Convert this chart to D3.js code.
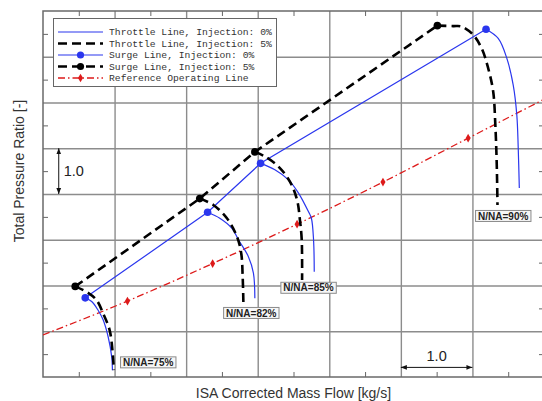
<!DOCTYPE html>
<html>
<head>
<meta charset="utf-8">
<script src="https://cdn.jsdelivr.net/npm/d3@7"></script>
<style>
  body { margin: 0; background: #fff; }
  svg { display: block; }
</style>
</head>
<body>
<script>
// speed lines N/NA
const speeds = ['75%', '82%', '85%', '90%'];

// surge points [mass flow, pressure ratio]
const surge0 = [[0.59, 1.73], [2.30, 3.60], [3.04, 4.67], [6.19, 7.60]];
const surge5 = [[0.45, 1.98], [2.19, 3.90], [2.96, 4.92], [5.51, 7.68]];

// throttle lines, injection 0% (start at the surge point)
const thr0_75 = [[0.68, 1.65], [0.77, 1.46], [0.84, 1.25], [0.91, 0.88], [0.96, 0.44], [0.97, 0.15]];
const thr0_82 = [[2.47, 3.47], [2.64, 3.25], [2.73, 3.00], [2.87, 2.63], [2.94, 2.27], [2.96, 1.72]];
const thr0_85 = [[3.24, 4.53], [3.43, 4.31], [3.57, 4.02], [3.71, 3.61], [3.75, 3.47], [3.78, 3.00], [3.79, 2.30]];
const thr0_90 = [[6.36, 7.40], [6.48, 6.97], [6.57, 6.38], [6.62, 5.73], [6.64, 5.00], [6.655, 4.13]];

// throttle lines, injection 5%
const thr5_75 = [[0.63, 1.84], [0.75, 1.68], [0.84, 1.39], [0.93, 1.03], [0.97, 0.59], [0.99, 0.15]];
const thr5_82 = [[2.38, 3.76], [2.57, 3.47], [2.71, 3.07], [2.77, 2.70], [2.79, 2.19], [2.80, 1.61]];
const thr5_85 = [[3.10, 4.82], [3.29, 4.60], [3.45, 4.27], [3.55, 3.87], [3.59, 3.43], [3.615, 3.00], [3.62, 2.12]];
const thr5_90 = [[5.73, 7.67], [5.85, 7.66], [6.01, 7.48], [6.13, 7.18], [6.22, 6.75], [6.29, 6.24], [6.32, 5.51], [6.34, 4.63], [6.35, 3.76]];

// reference operating line
const opLine = [[0, 0.92], [1.18, 1.66], [2.37, 2.48], [3.55, 3.34], [4.75, 4.26], [5.94, 5.22], [7.0, 6.07]];
const opMarkers = [[1.18, 1.66], [2.37, 2.48], [3.55, 3.34], [4.75, 4.26], [5.94, 5.22]];

// speed label positions (centre of box)
const labelPos = [[1.47, 0.32], [2.91, 1.40], [3.71, 1.95], [6.43, 3.52]];

const legendLabels = [
  'Throttle Line, Injection: 0%',
  'Throttle Line, Injection: 5%',
  'Surge Line, Injection: 0%',
  'Surge Line, Injection: 5%',
  'Reference Operating Line'
];

const config = {
  blue: '#2a36ee',
  black: '#000',
  red: '#dd1a1a',
  grid: '#8c8c8c',
  textColor: '#333',
  xTitle: 'ISA Corrected Mass Flow [kg/s]',
  yTitle: 'Total Pressure Ratio [-]'
};

const W = 542, H = 401;
const x = d3.scaleLinear().domain([0, 7]).range([43, 544]);
const y = d3.scaleLinear().domain([0, 8]).range([377, 11]);

const svg = d3.select('body').append('svg')
  .attr('width', W)
  .attr('height', H);

const defs = svg.append('defs');
defs.append('clipPath')
  .attr('id', 'clip')
  .append('rect')
  .attr('x', x(0))
  .attr('y', y(8))
  .attr('width', x(7) - x(0))
  .attr('height', y(0) - y(8));
defs.append('marker')
  .attr('id', 'arrow')
  .attr('viewBox', '0 0 10 10')
  .attr('refX', 10).attr('refY', 5)
  .attr('markerWidth', 6).attr('markerHeight', 6)
  .attr('markerUnits', 'userSpaceOnUse')
  .attr('orient', 'auto-start-reverse')
  .append('path')
  .attr('d', 'M0,1 L10,5 L0,9 Z')
  .attr('fill', '#111');

// grid
const pw = x(7) - x(0), ph = y(0) - y(8);
svg.append('g')
  .attr('class', 'grid')
  .attr('transform', `translate(0,${y(0)})`)
  .call(d3.axisBottom(x).tickValues(d3.range(1, 7)).tickSize(-ph).tickFormat(''));
svg.append('g')
  .attr('class', 'grid')
  .attr('transform', `translate(${x(0)},0)`)
  .call(d3.axisLeft(y).tickValues(d3.range(1, 8)).tickSize(-pw).tickFormat(''));
svg.selectAll('.grid .domain').remove();
svg.selectAll('.grid line')
  .attr('stroke', config.grid)
  .attr('stroke-width', 1.4);

// minor ticks on all four sides
const xMinor = d3.range(0.5, 7, 1);
const yMinor = d3.range(0.5, 8, 1);
const tickGroups = [
  svg.append('g').attr('transform', `translate(0,${y(0)})`).call(d3.axisBottom(x).tickValues(xMinor).tickSize(-5).tickFormat('')),
  svg.append('g').attr('transform', `translate(0,${y(8)})`).call(d3.axisTop(x).tickValues(xMinor).tickSize(-5).tickFormat('')),
  svg.append('g').attr('transform', `translate(${x(0)},0)`).call(d3.axisLeft(y).tickValues(yMinor).tickSize(-5).tickFormat('')),
  svg.append('g').attr('transform', `translate(${x(7)},0)`).call(d3.axisRight(y).tickValues(yMinor).tickSize(-5).tickFormat(''))
];
tickGroups.forEach(g => {
  g.select('.domain').remove();
  g.selectAll('line').attr('stroke', '#666').attr('stroke-width', 1);
});

// frame
svg.append('rect')
  .attr('x', x(0))
  .attr('y', y(8))
  .attr('width', pw)
  .attr('height', ph)
  .attr('fill', 'none')
  .attr('stroke', '#6a6a6a')
  .attr('stroke-width', 1.5);

const body = svg.append('g').attr('clip-path', 'url(#clip)');

const line = d3.line().x(d => x(d[0])).y(d => y(d[1]));
const smooth = d3.line().x(d => x(d[0])).y(d => y(d[1])).curve(d3.curveCatmullRom.alpha(0.5));

// reference operating line
body.append('path')
  .datum(opLine)
  .attr('d', d3.line().x(d => x(d[0])).y(d => y(d[1])).curve(d3.curveMonotoneX))
  .attr('fill', 'none')
  .attr('stroke', config.red)
  .attr('stroke-width', 1.3)
  .attr('stroke-dasharray', '7,3,1.5,3');
body.selectAll('.op')
  .data(opMarkers)
  .enter()
  .append('path')
  .attr('class', 'op')
  .attr('transform', d => `translate(${x(d[0])},${y(d[1])})`)
  .attr('d', d3.symbol().type(d3.symbolDiamond).size(22))
  .attr('fill', config.red);

// throttle lines, 0%
const thr0 = [thr0_75, thr0_82, thr0_85, thr0_90];
const thr5 = [thr5_75, thr5_82, thr5_85, thr5_90];

body.selectAll('.thr0')
  .data(thr0)
  .enter()
  .append('path')
  .attr('class', 'thr0')
  .attr('d', (d, i) => smooth([surge0[i]].concat(d)))
  .attr('fill', 'none')
  .attr('stroke', config.blue)
  .attr('stroke-width', 1.2);

// surge line, 0%
body.append('path')
  .datum(surge0)
  .attr('d', line)
  .attr('fill', 'none')
  .attr('stroke', config.blue)
  .attr('stroke-width', 1.2);

// throttle lines, 5%
body.selectAll('.thr5')
  .data(thr5)
  .enter()
  .append('path')
  .attr('class', 'thr5')
  .attr('d', (d, i) => smooth([surge5[i]].concat(d)))
  .attr('fill', 'none')
  .attr('stroke', config.black)
  .attr('stroke-width', 2.6)
  .attr('stroke-dasharray', '9,5');

// surge line, 5%
body.append('path')
  .datum(surge5)
  .attr('d', line)
  .attr('fill', 'none')
  .attr('stroke', config.black)
  .attr('stroke-width', 2.6)
  .attr('stroke-dasharray', '9,5');

// surge points
body.selectAll('.s0')
  .data(surge0)
  .enter()
  .append('circle')
  .attr('cx', d => x(d[0]))
  .attr('cy', d => y(d[1]))
  .attr('r', 3.8)
  .attr('fill', config.blue);
body.selectAll('.s5')
  .data(surge5)
  .enter()
  .append('circle')
  .attr('cx', d => x(d[0]))
  .attr('cy', d => y(d[1]))
  .attr('r', 3.8)
  .attr('fill', config.black);

// speed labels
const labels = svg.append('g')
  .selectAll('.lbl')
  .data(speeds)
  .enter()
  .append('g')
  .attr('class', 'lbl')
  .attr('transform', (d, i) => `translate(${x(labelPos[i][0])},${y(labelPos[i][1])})`);
labels.append('rect');
labels.append('text')
  .attr('text-anchor', 'middle')
  .attr('dy', '0.36em')
  .attr('font-family', 'Liberation Sans, Arial, sans-serif')
  .attr('font-weight', 'bold')
  .attr('font-size', 10)
  .attr('fill', '#222')
  .text(d => 'N/NA=' + d);
labels.each(function () {
  const g = d3.select(this);
  const bb = g.select('text').node().getBBox();
  g.select('rect')
    .attr('x', bb.x - 2.5)
    .attr('y', -5.5)
    .attr('width', bb.width + 5)
    .attr('height', 11)
    .attr('fill', '#f6f6f6')
    .attr('stroke', '#8a8a8a')
    .attr('stroke-width', 1);
});

// legend
const legend = svg.append('g').attr('class', 'legend');
legend.append('rect')
  .attr('x', 53.5).attr('y', 18.5)
  .attr('width', 223).attr('height', 68)
  .attr('fill', '#fff')
  .attr('stroke', '#666')
  .attr('stroke-width', 1);
const rowY = i => 32 + i * 11.5;
const lx0 = 58, lx1 = 103, lxm = 80.5;
const legendStyles = [
  { stroke: config.blue, width: 1.2, dash: null },
  { stroke: config.black, width: 2.6, dash: '9,5' },
  { stroke: config.blue, width: 1.2, dash: null, dot: true },
  { stroke: config.black, width: 2.6, dash: '9,5', dot: true },
  { stroke: config.red, width: 1.3, dash: '7,3,1.5,3', diamond: true }
];
const rows = legend.selectAll('.row')
  .data(legendLabels)
  .enter()
  .append('g')
  .attr('class', 'row')
  .attr('transform', (d, i) => `translate(0,${rowY(i)})`);
rows.append('line')
  .attr('x1', lx0).attr('x2', lx1)
  .attr('y1', 0).attr('y2', 0)
  .attr('stroke', (d, i) => legendStyles[i].stroke)
  .attr('stroke-width', (d, i) => legendStyles[i].width)
  .attr('stroke-dasharray', (d, i) => legendStyles[i].dash);
rows.filter((d, i) => legendStyles[i].dot)
  .append('circle')
  .attr('cx', lxm).attr('cy', 0).attr('r', 3.6)
  .attr('fill', (d, i, n) => legendStyles[legendLabels.indexOf(d)].stroke);
rows.filter((d, i) => legendStyles[i].diamond)
  .append('path')
  .attr('transform', `translate(${lxm},0)`)
  .attr('d', d3.symbol().type(d3.symbolDiamond).size(22))
  .attr('fill', config.red);
rows.append('text')
  .attr('x', 109)
  .attr('y', 0)
  .attr('dy', '0.32em')
  .attr('font-family', 'Liberation Mono, Courier New, monospace')
  .attr('font-size', 9.7)
  .attr('fill', config.textColor)
  .text(d => d);

// scale bars (1.0 in each direction)
svg.append('line')
  .attr('x1', x(0.22)).attr('x2', x(0.22))
  .attr('y1', y(4)).attr('y2', y(5))
  .attr('stroke', '#111')
  .attr('stroke-width', 1)
  .attr('marker-start', 'url(#arrow)')
  .attr('marker-end', 'url(#arrow)');
svg.append('text')
  .attr('x', x(0.29))
  .attr('y', y(4.5))
  .attr('dy', '0.36em')
  .attr('font-family', 'Liberation Sans, Arial, sans-serif')
  .attr('font-size', 14.5)
  .attr('fill', '#222')
  .text('1.0');
svg.append('line')
  .attr('x1', x(5)).attr('x2', x(6))
  .attr('y1', y(0.21)).attr('y2', y(0.21))
  .attr('stroke', '#111')
  .attr('stroke-width', 1)
  .attr('marker-start', 'url(#arrow)')
  .attr('marker-end', 'url(#arrow)');
svg.append('text')
  .attr('x', x(5.5))
  .attr('y', y(0.21) - 6)
  .attr('text-anchor', 'middle')
  .attr('font-family', 'Liberation Sans, Arial, sans-serif')
  .attr('font-size', 14.5)
  .attr('fill', '#222')
  .text('1.0');

// axis titles
svg.append('text')
  .attr('x', 293.5)
  .attr('y', 398)
  .attr('text-anchor', 'middle')
  .attr('font-family', 'Liberation Sans, Arial, sans-serif')
  .attr('font-size', 14)
  .attr('fill', config.textColor)
  .text(config.xTitle);
svg.append('text')
  .attr('transform', 'translate(24,171) rotate(-90)')
  .attr('text-anchor', 'middle')
  .attr('font-family', 'Liberation Sans, Arial, sans-serif')
  .attr('font-size', 14)
  .attr('fill', config.textColor)
  .text(config.yTitle);
</script>
</body>
</html>
